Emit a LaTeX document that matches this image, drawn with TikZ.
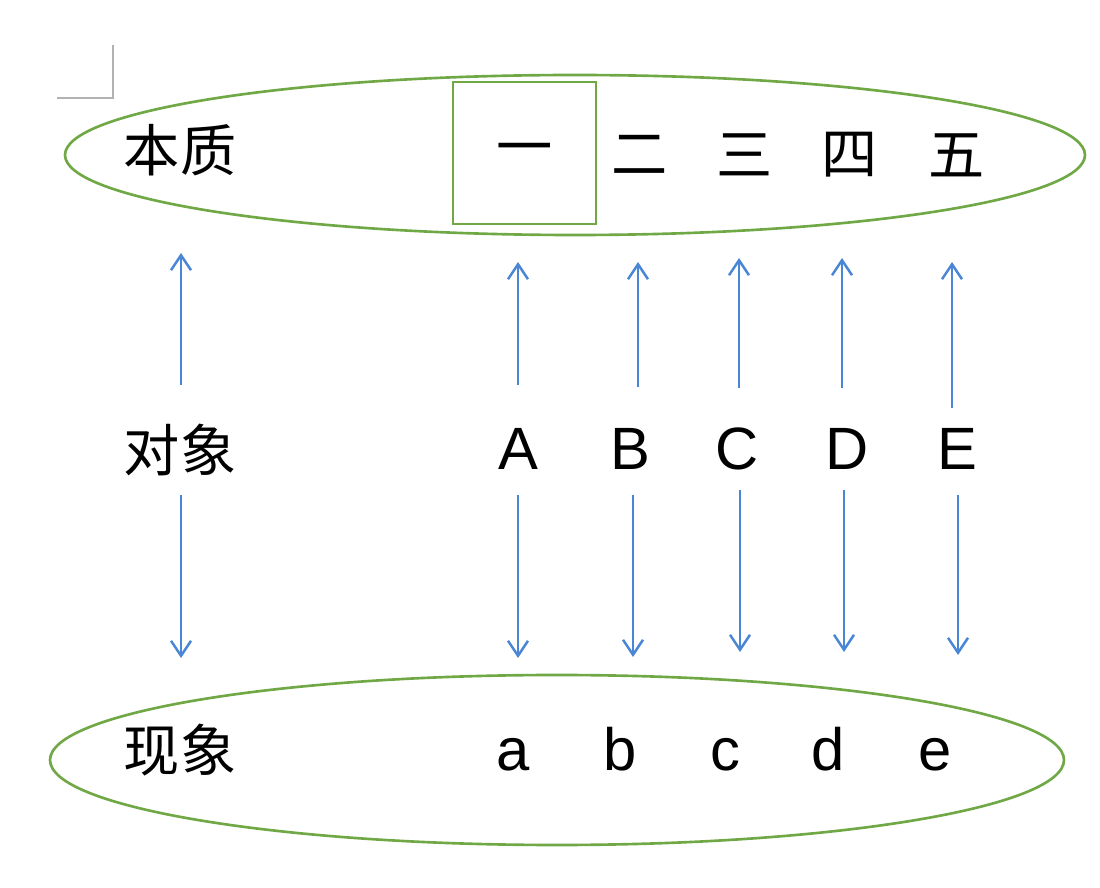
\documentclass[tikz,border=0pt]{standalone}
\usepackage{fontspec}
\setmainfont{Liberation Sans}
\newfontfamily\cjk{Noto Sans CJK SC}
\usetikzlibrary{positioning,arrows.meta}
\definecolor{ringgreen}{RGB}{112,168,70}
\definecolor{linkblue}{RGB}{74,134,214}
\tikzset{
  ring/.style={draw=ringgreen, line width=1.5pt},
  hanzi/.style={font=\cjk\fontsize{32}{36}\selectfont, inner sep=0pt},
  letter/.style={font=\fontsize{34}{38}\selectfont, inner sep=0pt, anchor=base},
  link/.style={draw=linkblue, line width=1.4pt, -{Straight Barb[length=3mm,width=4mm]}}
}
\begin{document}
\begin{tikzpicture}[x=0.02cm, y=-0.02cm]
    \useasboundingbox (0,0) rectangle (1100,888);
    % crop mark
    \draw[gray!60, line width=0.6pt] (57,98) -- (113,98) -- (113,45);

    % the two rings
    \draw[ring] (575,155) ellipse (510 and 80);
    \draw[ring] (557,760) ellipse (507 and 85);
    \draw[ring] (453,82) rectangle (596,224);

    % row labels
    \node[hanzi] (essence) at (180,150) {本质};
    \node[hanzi] (object) at (180,450) {对象};
    \node[hanzi] (appear) at (180,750) {现象};

    % numerals
    \node[hanzi] (n1) at (525,155) {一};
    \node[hanzi] (n2) at (640,155) {二};
    \node[hanzi] (n3) at (745,155) {三};
    \node[hanzi] (n4) at (850,155) {四};
    \node[hanzi] (n5) at (957,155) {五};

    % objects and appearances
    \foreach \name/\txt/\x in {A/A/518, B/B/630, C/C/737, D/D/847, E/E/957}
        \node[letter] (\name) at (\x,470) {\txt};
    \foreach \name/\txt/\x in {a/a/513, b/b/620, c/c/725, d/d/828, e/e/935}
        \node[letter] (\name) at (\x,770) {\txt};

    % arrows
    \coordinate (oUp) at (181,253);
    \coordinate (oDn) at (181,658);
    \draw[link] (181,385) -- (oUp);
    \draw[link] (181,495) -- (oDn);
    \foreach \x/\ya/\yb/\yc/\yd/\xd in {518/385/262/495/658/518, 638/387/262/495/657/633,
        739/388/258/490/652/740, 842/388/258/490/652/844, 952/408/262/495/655/958}
    {
        \draw[link] (\x,\ya) -- (\x,\yb);
        \draw[link] (\xd,\yc) -- (\xd,\yd);
    }
\end{tikzpicture}
\end{document}
